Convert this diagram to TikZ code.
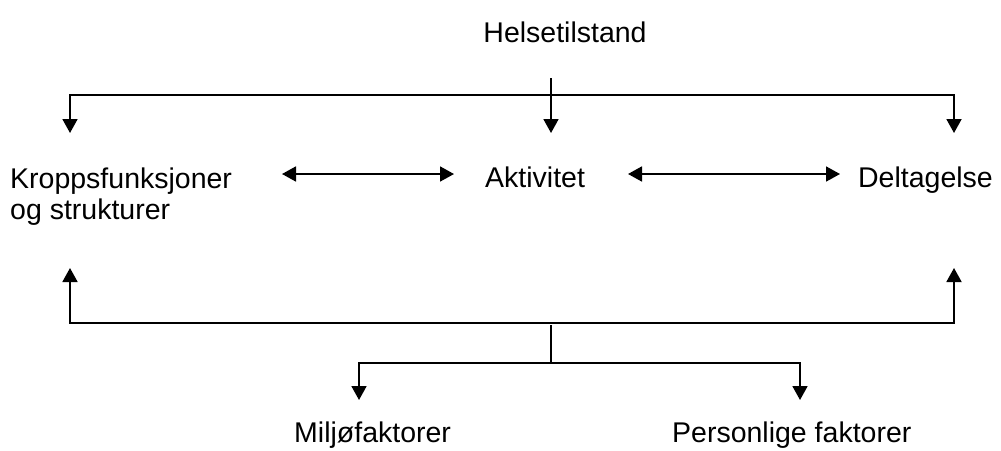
\documentclass[tikz,border=0pt]{standalone}
\usepackage{fontspec}
\setmainfont{Liberation Sans}
\usetikzlibrary{arrows.meta}
\begin{document}
\begin{tikzpicture}[x=1pt,y=-1pt,
  lbl/.style={inner sep=0pt,font=\fontsize{28.5}{31}\selectfont},
  conn/.style={line width=1.8pt,line join=miter},
  tipped/.style={conn,-{Triangle[width=15pt,length=14pt]}},
  twotip/.style={conn,{Triangle[width=15pt,length=14pt]}-{Triangle[width=15pt,length=14pt]}}]
\useasboundingbox (0,0) rectangle (1001,450);
% texts
\node[lbl,anchor=base] (hs) at (565,42) {Helsetilstand};
\node[lbl,anchor=base west] (kf) at (10,188) {\vtop{\baselineskip=31pt\hbox{Kroppsfunksjoner}\hbox{og strukturer}}};
\node[lbl,anchor=base west] (ak) at (485,187) {Aktivitet};
\node[lbl,anchor=base east] (dt) at (993,187) {Deltagelse};
\node[lbl,anchor=base west] (mf) at (294,442) {Miljøfaktorer};
\node[lbl,anchor=base west] (pf) at (672,442) {Personlige faktorer};
% coordinates
\coordinate (hsTop) at (551,78);
\coordinate (akTip) at (551,133);
\coordinate (kTip) at (70,133);
\coordinate (kBar) at (70,95);
\coordinate (dBar) at (954,95);
\coordinate (dTip) at (954,133);
\coordinate (kUp) at (70,268);
\coordinate (kLow) at (70,323);
\coordinate (dLow) at (954,323);
\coordinate (dUp) at (954,268);
\coordinate (midTop) at (551,325);
\coordinate (midBot) at (551,363);
\coordinate (mBar) at (359,363);
\coordinate (mTip) at (359,400);
\coordinate (pBar) at (800,363);
\coordinate (pTip) at (800,400);
\coordinate (a1) at (282,174);
\coordinate (a2) at (454,174);
\coordinate (b1) at (628,174);
\coordinate (b2) at (840,174);
% connectors
\draw[twotip] (kTip) -- (kBar) -- (dBar) -- (dTip);
\draw[tipped] (hsTop) -- (akTip);
\draw[twotip] (a1) -- (a2);
\draw[twotip] (b1) -- (b2);
\draw[twotip] (kUp) -- (kLow) -- (dLow) -- (dUp);
\draw[conn] (midTop) -- (midBot);
\draw[twotip] (mTip) -- (mBar) -- (pBar) -- (pTip);
\end{tikzpicture}
\end{document}
